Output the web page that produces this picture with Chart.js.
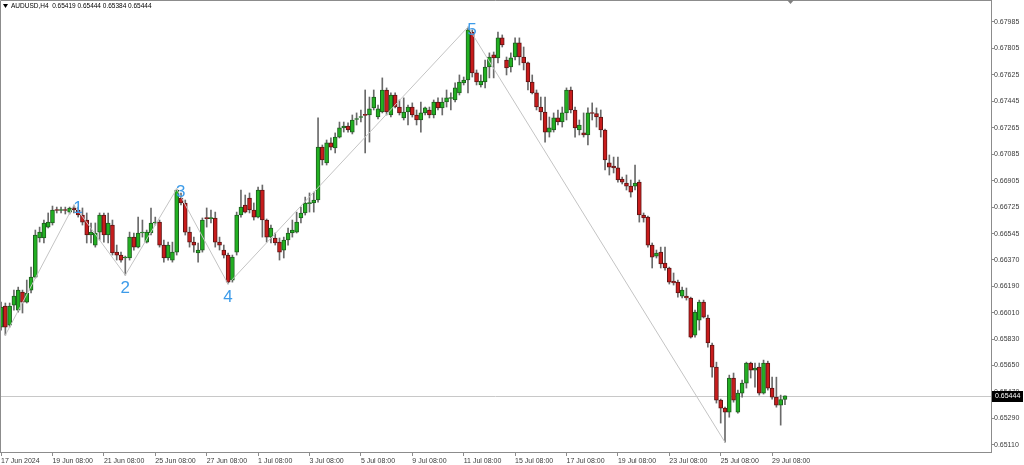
<!DOCTYPE html>
<html>
<head>
<meta charset="utf-8">
<script src="https://cdn.jsdelivr.net/npm/chart.js@4.4.1/dist/chart.umd.min.js"></script>
<style>
  html, body { margin: 0; padding: 0; background: #fff; overflow: hidden; }
</style>
</head>
<body>
<canvas id="chart" width="1024" height="465"></canvas>
<script>
// AUDUSD H4, one entry per bar (17 Jun 2024 08:00 -> 29 Jul 2024 20:00)
const opens = [
  0.65911, 0.66054, 0.65925, 0.66061, 0.66027, 0.66149, 0.66081, 0.66163, 0.66251, 0.66517,
  0.66517, 0.66591, 0.66619, 0.66707, 0.66704, 0.66707, 0.66693, 0.66721, 0.66707, 0.66673,
  0.66639, 0.66537, 0.66469, 0.66557, 0.66673, 0.66537, 0.66605, 0.66421, 0.66401, 0.66381,
  0.66381, 0.66523, 0.66455, 0.66551, 0.66489, 0.66551, 0.66619, 0.66625, 0.66469, 0.66381,
  0.66367, 0.66421, 0.66789, 0.66755, 0.66557, 0.66489, 0.66415, 0.66435, 0.66653, 0.66649,
  0.66653, 0.66489, 0.66435, 0.66401, 0.66231, 0.66421, 0.66673, 0.66741, 0.66789, 0.66707,
  0.66659, 0.66843, 0.66639, 0.66523, 0.66517, 0.66489, 0.66435, 0.66503, 0.66551, 0.66557,
  0.66653, 0.66687, 0.66751, 0.66755, 0.66775, 0.67135, 0.67027, 0.67163, 0.67129, 0.67203,
  0.67265, 0.67278, 0.67237, 0.67322, 0.67336, 0.67353, 0.67353, 0.67401, 0.67339, 0.67373,
  0.67523, 0.67353, 0.67489, 0.67407, 0.67333, 0.67373, 0.67407, 0.67353, 0.67319, 0.67367,
  0.67387, 0.67353, 0.67441, 0.67401, 0.67441, 0.67465, 0.67455, 0.67503, 0.67571, 0.67591,
  0.67917, 0.67639, 0.67557, 0.67577, 0.67679, 0.67761, 0.67741, 0.67877, 0.67727, 0.67679,
  0.67747, 0.67843, 0.67747, 0.67707, 0.67577, 0.67503, 0.67407, 0.67373, 0.67237, 0.67251,
  0.67333, 0.67305, 0.67367, 0.67523, 0.67387, 0.67251, 0.67231, 0.67217, 0.67367, 0.67363,
  0.67339, 0.67251, 0.67027, 0.67006, 0.66993, 0.66918, 0.66891, 0.66870, 0.66870, 0.66897,
  0.66673, 0.66659, 0.66469, 0.66394, 0.66421, 0.66347, 0.66313, 0.66224, 0.66217, 0.66122,
  0.66122, 0.66109, 0.65857, 0.65959, 0.66081, 0.65973, 0.65789, 0.65639, 0.65415, 0.65361,
  0.65333, 0.65565, 0.65333, 0.65463, 0.65531, 0.65667, 0.65619, 0.65639, 0.65463, 0.65667,
  0.65497, 0.65435, 0.65381, 0.65419
];
const highs = [
  0.66081, 0.66075, 0.66075, 0.66163, 0.66183, 0.66163, 0.66231, 0.66319, 0.66571, 0.66591,
  0.66639, 0.66687, 0.66734, 0.66727, 0.66727, 0.66727, 0.66727, 0.66741, 0.66727, 0.66721,
  0.66687, 0.66619, 0.66619, 0.66687, 0.66687, 0.66687, 0.66639, 0.66469, 0.66421, 0.66394,
  0.66557, 0.66551, 0.66659, 0.66639, 0.66571, 0.66721, 0.66659, 0.66639, 0.66503, 0.66489,
  0.66489, 0.66850, 0.66823, 0.66775, 0.66591, 0.66523, 0.66483, 0.66653, 0.66721, 0.66707,
  0.66693, 0.66523, 0.66469, 0.66415, 0.66401, 0.66693, 0.66843, 0.66809, 0.66823, 0.66755,
  0.66863, 0.66877, 0.66646, 0.66605, 0.66551, 0.66517, 0.66523, 0.66585, 0.66639, 0.66693,
  0.66727, 0.66795, 0.66823, 0.66829, 0.67333, 0.67149, 0.67183, 0.67197, 0.67231, 0.67305,
  0.67305, 0.67299, 0.67353, 0.67367, 0.67387, 0.67523, 0.67475, 0.67523, 0.67421, 0.67605,
  0.67537, 0.67503, 0.67503, 0.67455, 0.67469, 0.67421, 0.67435, 0.67387, 0.67441, 0.67407,
  0.67407, 0.67455, 0.67469, 0.67469, 0.67523, 0.67503, 0.67571, 0.67625, 0.67611, 0.67951,
  0.67931, 0.67659, 0.67625, 0.67727, 0.67775, 0.67781, 0.67917, 0.67897, 0.67747, 0.67775,
  0.67877, 0.67877, 0.67815, 0.67713, 0.67625, 0.67523, 0.67475, 0.67475, 0.67339, 0.67367,
  0.67387, 0.67407, 0.67537, 0.67543, 0.67407, 0.67319, 0.67367, 0.67401, 0.67435, 0.67401,
  0.67387, 0.67258, 0.67081, 0.67067, 0.67067, 0.66931, 0.66945, 0.66911, 0.67013, 0.66911,
  0.66687, 0.66666, 0.66483, 0.66435, 0.66455, 0.66455, 0.66319, 0.66279, 0.66231, 0.66183,
  0.66177, 0.66115, 0.66027, 0.66095, 0.66095, 0.65993, 0.65803, 0.65673, 0.65422, 0.65367,
  0.65585, 0.65599, 0.65483, 0.65551, 0.65673, 0.65673, 0.65667, 0.65667, 0.65687, 0.65680,
  0.65571, 0.65571, 0.65449, 0.65444
];
const lows = [
  0.65891, 0.65857, 0.65911, 0.66027, 0.66013, 0.66007, 0.66075, 0.66143, 0.66245, 0.66489,
  0.66483, 0.66585, 0.66605, 0.66687, 0.66687, 0.66680, 0.66680, 0.66687, 0.66659, 0.66605,
  0.66483, 0.66483, 0.66455, 0.66503, 0.66489, 0.66483, 0.66401, 0.66367, 0.66353, 0.66265,
  0.66367, 0.66435, 0.66449, 0.66523, 0.66483, 0.66537, 0.66605, 0.66455, 0.66353, 0.66367,
  0.66353, 0.66401, 0.66741, 0.66537, 0.66455, 0.66421, 0.66353, 0.66421, 0.66591, 0.66619,
  0.66455, 0.66435, 0.66381, 0.66204, 0.66217, 0.66401, 0.66659, 0.66687, 0.66687, 0.66639,
  0.66653, 0.66523, 0.66489, 0.66483, 0.66469, 0.66367, 0.66381, 0.66469, 0.66523, 0.66551,
  0.66619, 0.66673, 0.66693, 0.66693, 0.66761, 0.67013, 0.67013, 0.67115, 0.67095, 0.67197,
  0.67237, 0.67237, 0.67224, 0.67285, 0.67305, 0.67095, 0.67169, 0.67387, 0.67326, 0.67367,
  0.67353, 0.67339, 0.67401, 0.67353, 0.67319, 0.67285, 0.67339, 0.67285, 0.67237, 0.67353,
  0.67333, 0.67333, 0.67387, 0.67353, 0.67407, 0.67387, 0.67441, 0.67489, 0.67557, 0.67503,
  0.67611, 0.67557, 0.67543, 0.67537, 0.67605, 0.67605, 0.67707, 0.67815, 0.67625, 0.67645,
  0.67727, 0.67693, 0.67659, 0.67523, 0.67496, 0.67387, 0.67319, 0.67169, 0.67203, 0.67237,
  0.67285, 0.67271, 0.67319, 0.67367, 0.67203, 0.67217, 0.67203, 0.67149, 0.67319, 0.67271,
  0.67203, 0.66979, 0.66945, 0.66959, 0.66897, 0.66884, 0.66843, 0.66795, 0.66843, 0.66625,
  0.66625, 0.66455, 0.66313, 0.66381, 0.66313, 0.66299, 0.66204, 0.66197, 0.66115, 0.66109,
  0.66095, 0.65837, 0.65843, 0.65891, 0.65973, 0.65775, 0.65571, 0.65395, 0.65259, 0.65129,
  0.65299, 0.65401, 0.65327, 0.65435, 0.65497, 0.65565, 0.65503, 0.65449, 0.65456, 0.65483,
  0.65422, 0.65367, 0.65245, 0.65384
];
const closes = [
  0.66047, 0.65911, 0.66054, 0.66122, 0.66163, 0.66081, 0.66143, 0.66251, 0.66537, 0.66557,
  0.66619, 0.66625, 0.66707, 0.66704, 0.66707, 0.66704, 0.66721, 0.66707, 0.66673, 0.66625,
  0.66537, 0.66557, 0.66551, 0.66673, 0.66537, 0.66619, 0.66415, 0.66401, 0.66367, 0.66387,
  0.66523, 0.66455, 0.66551, 0.66557, 0.66557, 0.66619, 0.66625, 0.66469, 0.66381, 0.66469,
  0.66421, 0.66843, 0.66755, 0.66557, 0.66489, 0.66469, 0.66435, 0.66639, 0.66649, 0.66653,
  0.66489, 0.66469, 0.66401, 0.66217, 0.66387, 0.66673, 0.66727, 0.66693, 0.66707, 0.66659,
  0.66843, 0.66639, 0.66523, 0.66585, 0.66483, 0.66421, 0.66503, 0.66551, 0.66571, 0.66625,
  0.66687, 0.66755, 0.66755, 0.66775, 0.67135, 0.67047, 0.67163, 0.67135, 0.67203, 0.67265,
  0.67278, 0.67251, 0.67319, 0.67326, 0.67339, 0.67350, 0.67394, 0.67475, 0.67394, 0.67523,
  0.67373, 0.67489, 0.67407, 0.67367, 0.67373, 0.67407, 0.67353, 0.67319, 0.67367, 0.67401,
  0.67353, 0.67441, 0.67401, 0.67441, 0.67469, 0.67469, 0.67537, 0.67577, 0.67591, 0.67931,
  0.67639, 0.67577, 0.67584, 0.67679, 0.67747, 0.67741, 0.67877, 0.67829, 0.67673, 0.67741,
  0.67843, 0.67747, 0.67707, 0.67577, 0.67503, 0.67407, 0.67373, 0.67237, 0.67265, 0.67333,
  0.67305, 0.67367, 0.67523, 0.67387, 0.67265, 0.67285, 0.67217, 0.67367, 0.67363, 0.67339,
  0.67251, 0.67047, 0.66999, 0.66993, 0.66911, 0.66897, 0.66870, 0.66829, 0.66891, 0.66673,
  0.66653, 0.66469, 0.66387, 0.66415, 0.66340, 0.66313, 0.66217, 0.66211, 0.66143, 0.66163,
  0.66109, 0.65843, 0.66013, 0.66081, 0.65979, 0.65803, 0.65639, 0.65415, 0.65361, 0.65333,
  0.65565, 0.65415, 0.65463, 0.65531, 0.65667, 0.65619, 0.65633, 0.65463, 0.65667, 0.65497,
  0.65435, 0.65381, 0.65419, 0.65444
];

// zigzag turning points (bar index, price) and their wave numbers
const zzIndex = [1, 17, 29, 41, 53, 109, 169];
const zzPrice = [0.65857, 0.66741, 0.66265, 0.66850, 0.66204, 0.67951, 0.65129];
const zzLabels = ['', '1', '2', '3', '4', '5', ''];

// axis ticks
const xTickIndex = [0, 12, 24, 36, 48, 60, 72, 84, 96, 108, 120, 132, 144, 156, 168, 180];
const xTickLabels = ['17 Jun 2024', '19 Jun 08:00', '21 Jun 08:00', '25 Jun 08:00', '27 Jun 08:00',
  '1 Jul 08:00', '3 Jul 08:00', '5 Jul 08:00', '9 Jul 08:00', '11 Jul 08:00', '15 Jul 08:00',
  '17 Jul 08:00', '19 Jul 08:00', '23 Jul 08:00', '25 Jul 08:00', '29 Jul 08:00'];
const yTickValues = [0.67985, 0.67805, 0.67625, 0.67445, 0.67265, 0.67085, 0.66905, 0.66725,
  0.66545, 0.66370, 0.66190, 0.66010, 0.65830, 0.65650, 0.65470, 0.65290, 0.65110];

const symbolTitle = 'AUDUSD,H4';
const lastIdx = closes.length - 1;
const lastPrice = closes[lastIdx];

const bull = '#22b022', bullEdge = '#1e5e1e';
const bear = '#c81c1c', bearEdge = '#5e1414';
const axisFont = { family: 'Liberation Sans', size: 7 };

const mt4Overlay = {
  id: 'mt4Overlay',
  beforeDatasetsDraw(chart) {
    const { ctx, chartArea: a, scales: { y } } = chart;
    const py = Math.round(y.getPixelForValue(lastPrice)) + 0.5;
    ctx.save();
    ctx.strokeStyle = '#c8c8c8';
    ctx.lineWidth = 1;
    ctx.beginPath();
    ctx.moveTo(a.left, py);
    ctx.lineTo(a.right, py);
    ctx.stroke();
    ctx.restore();
  },
  afterDatasetsDraw(chart) {
    const { ctx, scales: { x, y } } = chart;
    ctx.save();
    ctx.fillStyle = '#3d9be9';
    ctx.font = '17px "Liberation Sans"';
    ctx.textAlign = 'center';
    ctx.textBaseline = 'middle';
    zzLabels.forEach((t, k) => {
      if (!t) return;
      const px = x.getPixelForValue(zzIndex[k]);
      const py = y.getPixelForValue(zzPrice[k]);
      const isHigh = k % 2 === 1;
      ctx.fillText(t, px + (isHigh ? 4 : 0), py + (isHigh ? 3 : 13));
    });
    ctx.restore();
  },
  afterDraw(chart) {
    const { ctx, chartArea: a, scales: { y } } = chart;
    ctx.save();
    // frame top / left
    ctx.strokeStyle = '#8c8c8c';
    ctx.lineWidth = 1;
    ctx.beginPath();
    ctx.moveTo(0.5, a.bottom);
    ctx.lineTo(0.5, 0.5);
    ctx.lineTo(a.right, 0.5);
    ctx.stroke();

    // title line
    ctx.fillStyle = '#000';
    ctx.beginPath();
    ctx.moveTo(3, 4); ctx.lineTo(8, 4); ctx.lineTo(5.5, 8);
    ctx.closePath();
    ctx.fill();
    ctx.font = '6.5px "Liberation Sans"';
    ctx.textBaseline = 'middle';
    ctx.textAlign = 'left';
    const ohlc = [opens[lastIdx], highs[lastIdx], lows[lastIdx], closes[lastIdx]].map(v => v.toFixed(5)).join(' ');
    ctx.fillText(symbolTitle + '  ' + ohlc, 11, 6.5);

    // chart shift marker
    ctx.fillStyle = '#808080';
    ctx.beginPath();
    ctx.moveTo(787, 0); ctx.lineTo(794, 0); ctx.lineTo(790.5, 4);
    ctx.closePath();
    ctx.fill();

    // last price box
    const py = Math.round(y.getPixelForValue(lastPrice));
    ctx.fillStyle = '#000';
    ctx.fillRect(a.right + 1, py - 5, 31, 11);
    ctx.fillStyle = '#fff';
    ctx.font = '7px "Liberation Sans"';
    ctx.fillText(lastPrice.toFixed(5), a.right + 4, py + 0.5);
    ctx.restore();
  }
};

new Chart(document.getElementById('chart'), {
  type: 'bar',
  data: {
    datasets: [
      {
        type: 'line',
        data: zzIndex.map((v, i) => ({ x: v, y: zzPrice[i] })),
        borderColor: '#c4c4c4',
        borderWidth: 1,
        pointRadius: 0,
        tension: 0,
        order: 1
      },
      {
        data: opens.map((o, i) => ({ x: i, y: [o, closes[i]] })),
        backgroundColor: opens.map((o, i) => closes[i] >= o ? bull : bear),
        borderColor: opens.map((o, i) => closes[i] >= o ? bullEdge : bearEdge),
        borderWidth: 1,
        borderSkipped: false,
        barThickness: 4,
        minBarLength: 1,
        grouped: false,
        order: 2
      },
      {
        data: lows.map((l, i) => ({ x: i, y: [l, highs[i]] })),
        backgroundColor: '#6a6a6a',
        barThickness: 1,
        grouped: false,
        order: 3
      }
    ]
  },
  options: {
    responsive: false,
    animation: false,
    layout: { padding: 0 },
    plugins: { legend: { display: false }, tooltip: { enabled: false } },
    scales: {
      x: {
        type: 'linear',
        offset: false,
        min: -0.25,
        max: 231.1,
        afterBuildTicks: s => { s.ticks = xTickIndex.map(v => ({ value: v })); },
        afterFit: s => { s.height = 13; s.paddingLeft = 0; s.paddingRight = 0; },
        ticks: {
          autoSkip: false,
          maxRotation: 0,
          align: 'start',
          padding: 1,
          font: axisFont,
          color: '#3a3a3a',
          callback: (v, i) => xTickLabels[i]
        },
        grid: { offset: false, drawOnChartArea: false, tickLength: 4, color: '#8c8c8c' },
        border: { color: '#8c8c8c' }
      },
      y: {
        type: 'linear',
        position: 'right',
        min: 0.650624,
        max: 0.681345,
        afterBuildTicks: s => { s.ticks = yTickValues.map(v => ({ value: v })); },
        afterFit: s => { s.width = 33; s.paddingTop = 0; s.paddingBottom = 0; },
        ticks: {
          autoSkip: false,
          padding: 0,
          font: axisFont,
          color: '#3a3a3a',
          callback: v => v.toFixed(5)
        },
        grid: { drawOnChartArea: false, tickLength: 3, color: '#8c8c8c' },
        border: { color: '#8c8c8c' }
      }
    }
  },
  plugins: [mt4Overlay]
});
</script>
</body>
</html>
